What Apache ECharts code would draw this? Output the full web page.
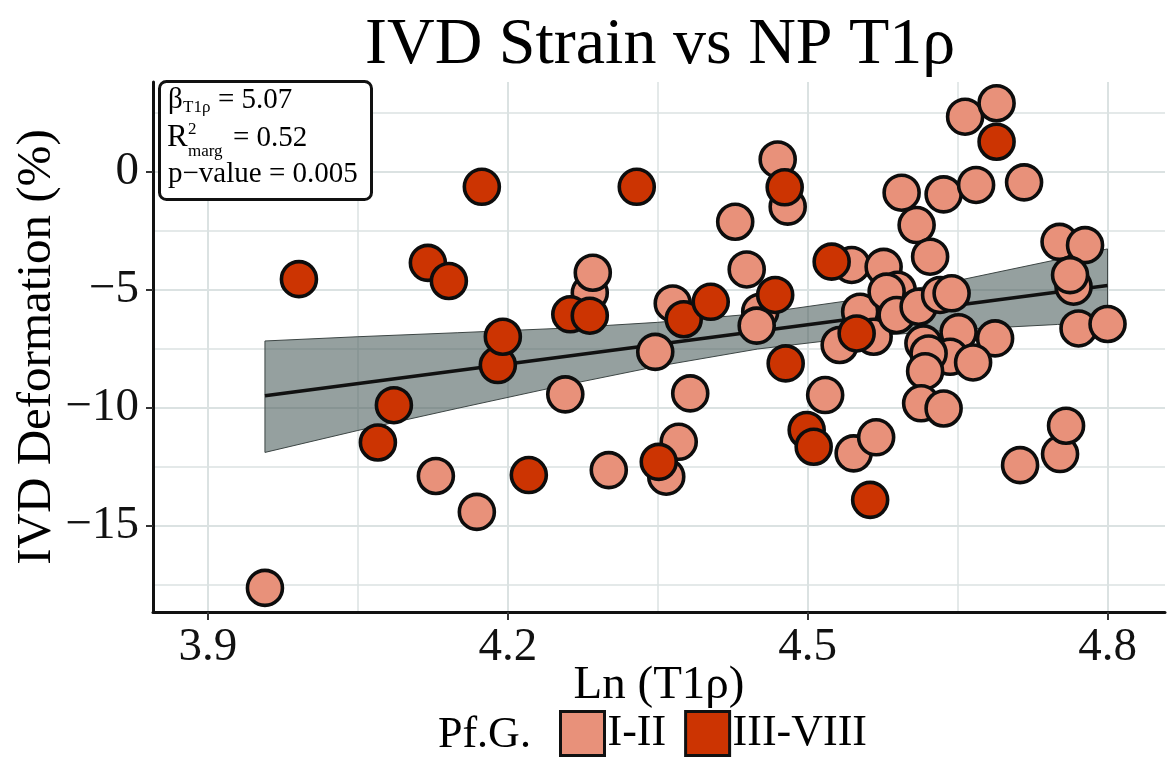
<!DOCTYPE html>
<html>
<head>
<meta charset="utf-8">
<script src="https://cdn.jsdelivr.net/npm/echarts@6/dist/echarts.min.js"></script>
<style>html,body{margin:0;padding:0;background:#fff;}#c{width:1167px;height:760px;}</style>
</head>
<body>
<div id="c"></div>
<script>
// ---- data ----
const xMajorTicks = [3.9, 4.2, 4.5, 4.8];
const xMinorGrid = [4.05, 4.35, 4.65];
const yMajorTicks = [-15, -10, -5, 0];
const yMinorGrid = [-17.5, -12.5, -7.5, -2.5, 2.5];

const lightPoints = [ // Pf.G. I-II
  [3.957, -17.63], [4.128, -12.89], [4.169, -14.41], [4.2575, -9.43], [4.282, -5.13],
  [4.285, -4.28], [4.301, -12.64], [4.3475, -7.63], [4.365, -5.58], [4.371, -11.44],
  [4.3585, -12.92], [4.3825, -9.39], [4.4275, -2.12], [4.439, -4.14], [4.4525, -5.93],
  [4.449, -6.52], [4.470, 0.52], [4.480, -1.48], [4.5175, -9.46], [4.532, -7.34],
  [4.544, -3.95], [4.546, -11.93], [4.5685, -11.25], [4.5525, -5.93], [4.566, -6.99],
  [4.576, -4.03], [4.59, -5.0], [4.579, -5.08], [4.589, -6.07], [4.611, -5.72],
  [4.594, -0.89], [4.609, -2.26], [4.6225, -3.60], [4.636, -0.96], [4.6685, -0.56],
  [4.7165, -0.45], [4.6575, 2.33], [4.689, 2.90], [4.6325, -5.22], [4.644, -5.15],
  [4.651, -6.80], [4.6875, -7.06], [4.6158, -7.27], [4.6425, -7.84], [4.621, -7.70],
  [4.6655, -8.08], [4.6175, -8.45], [4.6135, -9.81], [4.636, -10.03], [4.7125, -12.43],
  [4.7525, -11.96], [4.7585, -10.76], [4.752, -2.97], [4.7775, -3.11], [4.766, -4.87],
  [4.7625, -4.38], [4.771, -6.64], [4.800, -6.45]
];
const darkPoints = [ // Pf.G. III-VIII
  [3.991, -4.55], [4.070, -11.47], [4.086, -9.89], [4.120, -3.86], [4.141, -4.63],
  [4.174, -0.64], [4.190, -8.19], [4.195, -6.99], [4.221, -12.85], [4.2625, -6.04],
  [4.282, -6.10], [4.329, -0.64], [4.351, -12.29], [4.376, -6.25], [4.403, -5.51],
  [4.4675, -5.22], [4.477, -0.66], [4.478, -8.12], [4.499, -10.94], [4.506, -11.65],
  [4.524, -3.81], [4.549, -6.85], [4.5625, -13.90], [4.689, 1.27]
];

const fitX = [3.957, 4.800];
const fitY = [-9.49, -4.82];

const bandX     = [3.957, 4.05, 4.15, 4.25, 4.35, 4.45, 4.55, 4.65, 4.75, 4.80];
const bandUpper = [-7.17, -6.99, -6.82, -6.64, -6.38, -6.01, -5.41, -4.61, -3.72, -3.27];
const bandLower = [-11.89, -10.96, -10.02, -9.10, -8.24, -7.51, -7.01, -6.69, -6.47, -6.38];

const SERIF = '"Liberation Serif", "DejaVu Serif", serif';
const GRID_COLOR = '#dbe2e2';

const chart = echarts.init(document.getElementById('c'), null, {renderer: 'canvas'});

const bandData = bandX.map((x, i) => [x, bandUpper[i], bandLower[i]]);

const option = {
  animation: false,
  backgroundColor: '#ffffff',
  title: {
    text: 'IVD Strain vs NP T1ρ',
    left: 360, top: 8,
    textStyle: {fontFamily: SERIF, fontSize: 66, fontWeight: 'normal', color: '#000'}
  },
  grid: {left: 153, right: 2, top: 82, bottom: 148, containLabel: false, outerBoundsMode: 'none'},
  legend: {
    data: ['I-II', 'III-VIII'],
    left: 559, top: 710, padding: 0,
    icon: 'rect', itemWidth: 44, itemHeight: 44, itemGap: 18,
    itemStyle: {borderColor: '#111', borderWidth: 3},
    textStyle: {fontFamily: SERIF, fontSize: 44, color: '#000', padding: [0, 0, 0, -2]}
  },
  xAxis: [{
    type: 'value', min: 3.845, max: 4.8575,
    name: 'Ln (T1ρ)', nameLocation: 'middle', nameGap: 50, nameMoveOverlap: false,
    nameTextStyle: {fontFamily: SERIF, fontSize: 47, color: '#000'},
    axisLine: {show: true, onZero: false, lineStyle: {color: '#111', width: 3}},
    axisTick: {show: true, length: 8, customValues: xMajorTicks, lineStyle: {color: '#333', width: 2}},
    axisLabel: {customValues: xMajorTicks, margin: 12, fontFamily: SERIF, fontSize: 47, color: '#111',
      formatter: v => v.toFixed(1)},
    splitLine: {show: true, lineStyle: {color: GRID_COLOR, width: 2}}
  }, {
    type: 'value', min: 3.845, max: 4.8575, position: 'bottom',
    axisLine: {show: false}, axisLabel: {show: false},
    axisTick: {show: false, customValues: xMinorGrid},
    splitLine: {show: true, lineStyle: {color: GRID_COLOR, width: 1.5}}
  }],
  yAxis: [{
    type: 'value', min: -18.65, max: 3.8,
    name: 'IVD Deformation (%)', nameLocation: 'middle', nameGap: 91, nameRotate: 90, nameMoveOverlap: false,
    nameTextStyle: {fontFamily: SERIF, fontSize: 49, color: '#000'},
    axisLine: {show: true, onZero: false, lineStyle: {color: '#111', width: 3}},
    axisTick: {show: true, length: 7, customValues: yMajorTicks, lineStyle: {color: '#333', width: 2}},
    axisLabel: {customValues: yMajorTicks, margin: 14, fontFamily: SERIF, fontSize: 47, color: '#111',
      formatter: v => String(v).replace('-', '\u2212')},
    splitLine: {show: true, lineStyle: {color: GRID_COLOR, width: 2}}
  }, {
    type: 'value', min: -18.65, max: 3.8, position: 'left',
    axisLine: {show: false}, axisLabel: {show: false},
    axisTick: {show: false, customValues: yMinorGrid},
    splitLine: {show: true, lineStyle: {color: GRID_COLOR, width: 1.5}}
  }],
  series: [
    {
      type: 'custom', name: 'band', z: 1, silent: true,
      xAxisIndex: 0, yAxisIndex: 0,
      data: bandData,
      renderItem: function (params, api) {
        if (params.dataIndex !== 0) return null;
        const pts = [];
        for (let i = 0; i < bandData.length; i++) pts.push(api.coord([bandData[i][0], bandData[i][1]]));
        for (let i = bandData.length - 1; i >= 0; i--) pts.push(api.coord([bandData[i][0], bandData[i][2]]));
        return {
          type: 'polygon',
          shape: {points: pts},
          style: {fill: 'rgba(78,97,95,0.6)', stroke: '#3d4645', lineWidth: 1}
        };
      },
      encode: {x: 0, y: 1}
    },
    {
      type: 'line', name: 'fit', z: 2, silent: true,
      data: fitX.map((x, i) => [x, fitY[i]]),
      symbol: 'none',
      lineStyle: {color: '#111', width: 3.5}
    },
    {
      type: 'scatter', name: 'I-II', z: 3,
      data: lightPoints,
      symbol: 'circle', symbolSize: 35,
      itemStyle: {color: '#E8917A', borderColor: '#0d0d0d', borderWidth: 3.6, opacity: 1}
    },
    {
      type: 'scatter', name: 'III-VIII', z: 4,
      data: darkPoints,
      symbol: 'circle', symbolSize: 35,
      itemStyle: {color: '#CC3402', borderColor: '#0d0d0d', borderWidth: 3.6, opacity: 1}
    }
  ],
  graphic: [
    {type: 'rect', left: 158, top: 80, z: 100,
      shape: {width: 212, height: 118, r: 7},
      style: {fill: '#fff', stroke: '#111', lineWidth: 3}},
    {type: 'text', x: 168, y: 100, z: 101, style: {text: 'β', font: '29px ' + SERIF, fill: '#000', verticalAlign: 'middle'}},
    {type: 'text', x: 183, y: 108, z: 101, style: {text: 'T1ρ', font: '17px ' + SERIF, fill: '#000', verticalAlign: 'middle'}},
    {type: 'text', x: 218, y: 100, z: 101, style: {text: '= 5.07', font: '29px ' + SERIF, fill: '#000', verticalAlign: 'middle'}},
    {type: 'text', x: 167, y: 138, z: 101, style: {text: 'R', font: '31px ' + SERIF, fill: '#000', verticalAlign: 'middle'}},
    {type: 'text', x: 188, y: 130, z: 101, style: {text: '2', font: '17px ' + SERIF, fill: '#000', verticalAlign: 'middle'}},
    {type: 'text', x: 188, y: 152, z: 101, style: {text: 'marg', font: '17px ' + SERIF, fill: '#000', verticalAlign: 'middle'}},
    {type: 'text', x: 233, y: 138, z: 101, style: {text: '= 0.52', font: '29px ' + SERIF, fill: '#000', verticalAlign: 'middle'}},
    {type: 'text', x: 168, y: 174, z: 101, style: {text: 'p\u2212value = 0.005', font: '29px ' + SERIF, fill: '#000', verticalAlign: 'middle'}},
    {type: 'text', x: 438, y: 735, z: 101, style: {text: 'Pf.G.', font: '44px ' + SERIF, fill: '#000', verticalAlign: 'middle'}}
  ]
};
chart.setOption(option);
</script>
</body>
</html>
